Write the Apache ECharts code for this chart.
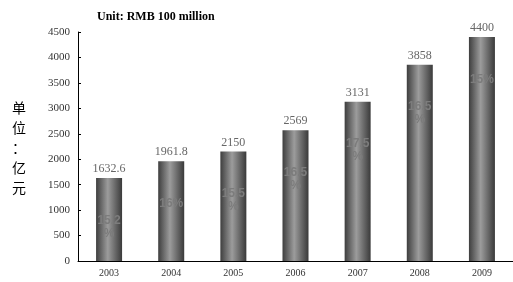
<!DOCTYPE html>
<html><head><meta charset="utf-8">
<script src="https://cdn.jsdelivr.net/npm/echarts@6/dist/echarts.min.js"></script>
<style>html,body{margin:0;padding:0;background:#fff}#c{width:513px;height:282px}</style>
</head><body><div id="c"></div>
<script>
const categories = ['2003','2004','2005','2006','2007','2008','2009'];
const values = [1632.6, 1961.8, 2150, 2569, 3131, 3858, 4400];
const growth = ['15.2%','16%','15.5%','16.5%','17.5%','16.5%','15%'];
const yTicks = [0,500,1000,1500,2000,2500,3000,3500,4000,4500];

const barGrad = new echarts.graphic.LinearGradient(0,0,1,0,[
  {offset:0,color:'#3e3e3e'},{offset:0.45,color:'#9c9c9c'},{offset:1,color:'#3a3a3a'}]);

const chart = echarts.init(document.getElementById('c'));
chart.setOption({
  animation:false,
  title:{text:'Unit: RMB 100 million',left:92,top:6,
    textStyle:{fontFamily:'Liberation Serif',fontWeight:'bold',fontSize:12,color:'#000'}},
  graphic:[{type:'text',left:12,top:98,
    style:{text:'单\n位\n：\n亿\n元',font:'14px "Noto Sans CJK SC"',lineHeight:20,fill:'#000',align:'center'}}],
  grid:{left:78,right:0,top:32,bottom:21},
  xAxis:{type:'category',data:categories,
    axisLine:{lineStyle:{color:'#000',width:1}},
    axisTick:{inside:true,length:4,lineStyle:{color:'#000'}},
    axisLabel:{fontFamily:'Liberation Serif',fontSize:10,color:'#333',margin:7}},
  yAxis:{type:'value',min:yTicks[0],max:yTicks[yTicks.length-1],interval:500,
    splitLine:{show:false},
    axisLine:{show:true,lineStyle:{color:'#000',width:1}},
    axisTick:{show:true,inside:true,length:3,lineStyle:{color:'#000'}},
    axisLabel:{fontFamily:'Liberation Serif',fontSize:11,color:'#333',margin:8,formatter:v=>String(v)}},
  series:[
    {type:'bar',data:values,barWidth:26,itemStyle:{color:barGrad},
     label:{show:true,position:'top',distance:3,fontFamily:'Liberation Serif',fontSize:12,color:'#666'}},
    {type:'bar',data:values,barWidth:26,barGap:'-100%',itemStyle:{color:'transparent'},silent:true,
     label:{show:true,position:'insideTop',distance:36,
       formatter:p=>growth[p.dataIndex],
       width:26,overflow:'breakAll',lineHeight:13,align:'center',
       textBorderWidth:0,textBorderColor:'transparent',
       fontFamily:'Liberation Sans',fontWeight:'bold',fontSize:12,color:'#7c7c7c'}}
  ]
});
</script></body></html>
